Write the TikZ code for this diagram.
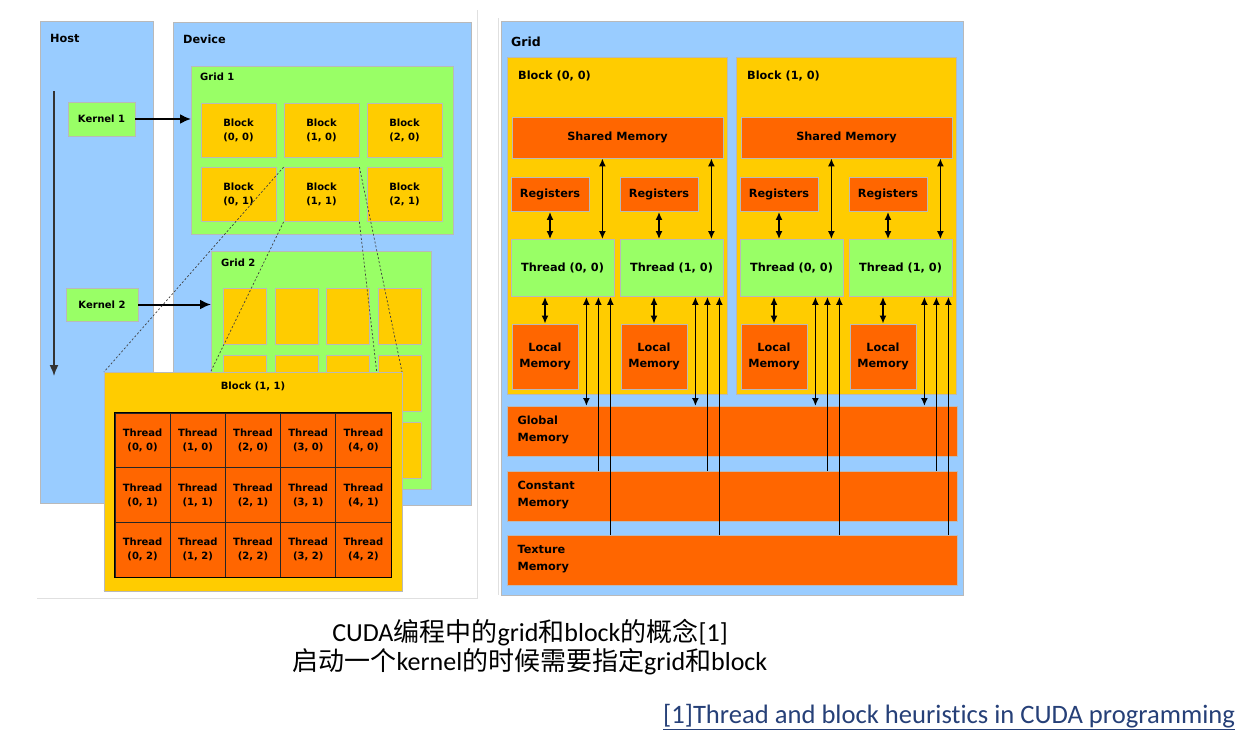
\documentclass[tikz,border=0pt]{standalone}
\usepackage{fontspec}
\setmainfont{Carlito}
\newfontfamily\dejavu{DejaVu Sans}
\newfontfamily\cjk{Noto Sans CJK SC}
\usetikzlibrary{arrows.meta, calc, positioning}
\definecolor{panelblue}{RGB}{153,204,255}
\definecolor{gridgreen}{RGB}{153,255,102}
\definecolor{blockyellow}{RGB}{255,204,0}
\definecolor{memorange}{RGB}{255,102,0}
\definecolor{boxedge}{RGB}{185,185,185}
\definecolor{linkblue}{RGB}{38,64,120}

\begin{document}
\begin{tikzpicture}[x=1pt, y=-1pt]
        % styles %
        \tikzstyle{panel} = [draw=boxedge, line width=0.8pt, inner sep=0pt];
        \tikzstyle{bluebox} = [panel, fill=panelblue, anchor=north west];
        \tikzstyle{greenbox} = [panel, fill=gridgreen];
        \tikzstyle{yellowbox} = [panel, fill=blockyellow];
        \tikzstyle{membox} = [panel, fill=memorange];
        \tikzstyle{title} = [anchor=west, inner sep=0pt, font=\dejavu\bfseries\fontsize{11.3}{13}\selectfont];
        \tikzstyle{tiny} = [align=center, font=\dejavu\bfseries\fontsize{10}{14}\selectfont];
        \tikzstyle{small} = [align=center, font=\dejavu\bfseries\fontsize{11.3}{16.5}\selectfont];
        \tikzstyle{kernelarrow} = [-{Latex[length=11pt,width=10pt]}, line width=2pt];
        \tikzstyle{timeline} = [-{Latex[length=11pt,width=9pt]}, draw=black!80, line width=1.6pt];
        \tikzstyle{zoomline} = [dash pattern=on 2pt off 2pt, draw=black!75, line width=0.7pt];
        \tikzstyle{dbl} = [{Latex[length=8pt,width=7pt]}-{Latex[length=8pt,width=7pt]}, line width=1.6pt];
        \tikzstyle{up} = [-{Latex[length=8pt,width=7pt]}, line width=1.6pt];

        \useasboundingbox (0,0) rectangle (1249,737);
        \fill[white] (0,0) rectangle (1249,737);
        \draw[black!12] (37,598) -- (477,598) -- (477,10);
        \draw[black!12] (498,18) -- (498,595);

        % host and device %
        \node [bluebox, minimum width=113pt, minimum height=482pt] (host) at (40,21) {};
        \node [bluebox, minimum width=298pt, minimum height=483pt] (device) at (173,22) {};
        \node [title] (hostlbl) at (50,38) {Host};
        \node [title] (devicelbl) at (183,39) {Device};

        \coordinate (tstart) at (54,91);
        \coordinate (tend) at (54,376);
        \draw [timeline] (tstart) -- (tend);

        \node [greenbox, tiny, minimum width=67pt, minimum height=34pt] (kern1) at (101.5,119) {Kernel 1};
        \node [greenbox, tiny, minimum width=72pt, minimum height=33pt] (kern2) at (102,304.5) {Kernel 2};

        % grid 1 %
        \node [greenbox, anchor=north west, minimum width=262pt, minimum height=168pt] (grid1) at (191,66) {};
        \node [title, font=\dejavu\bfseries\fontsize{10}{12}\selectfont] (grid1lbl) at (200,77) {Grid 1};
        \begin{scope}[node distance=83pt]
        \tikzstyle{blk} = [yellowbox, tiny, minimum width=75pt, minimum height=54pt];
        \node [blk] (blk00) at (238.5,130) {Block\\(0, 0)};
        \node [blk] (blk10) [right of = blk00] {Block\\(1, 0)};
        \node [blk] (blk20) [right of = blk10] {Block\\(2, 0)};
        \node [blk] (blk01) at (238.5,194.5) {Block\\(0, 1)};
        \node [blk] (blk11) [right of = blk01] {Block\\(1, 1)};
        \node [blk] (blk21) [right of = blk11] {Block\\(2, 1)};
        \end{scope}

        % grid 2 %
        \node [greenbox, anchor=north west, minimum width=220pt, minimum height=238pt] (grid2) at (211,251) {};
        \node [title, font=\dejavu\bfseries\fontsize{10}{12}\selectfont] (grid2lbl) at (221,263) {Grid 2};
        \foreach \i/\x in {0/244.5, 1/296.5, 2/347.5, 3/399.5}
          \foreach \j/\y in {0/316, 1/383.5, 2/450}
            \node [yellowbox, minimum width=43pt, minimum height=56pt] (gb\i\j) at (\x,\y) {};

        \draw [kernelarrow] (kern1.east) -- (kern1.east -| grid1.west);
        \draw [kernelarrow] (kern2.east) -- (kern2.east -| grid2.west);

        % zoomed block %
        \draw [zoomline] (blk11.north west) -- (104,372);
        \draw [zoomline] (blk11.south west) -- (104,591);
        \draw [zoomline] (blk11.north east) -- (402,372);
        \draw [zoomline] (blk11.south east) -- (402,591);
        \node [yellowbox, anchor=north west, minimum width=298pt, minimum height=219pt] (bigblk) at (104,372) {};
        \node [tiny] (bigblklbl) at (253,386) {Block (1, 1)};
        \foreach \i in {0,...,4}
          \foreach \j in {0,1,2}
            \node [membox, tiny, draw=black!85, minimum width=55.2pt, minimum height=54.67pt]
              (th\i\j) at (142.6+55.2*\i, 440.3+54.67*\j) {Thread\\(\i, \j)};
        \draw [line width=1.3pt] (th00.north west) rectangle (th42.south east);

        % right: grid %
        \node [bluebox, minimum width=462pt, minimum height=574pt] (grid) at (501,21) {};
        \node [title, font=\dejavu\bfseries\fontsize{12.5}{14}\selectfont] (gridlbl) at (511,42) {Grid};
        \node [membox, anchor=north west, minimum width=450pt, minimum height=50pt] (glob) at (507,406) {};
        \node [membox, anchor=north west, minimum width=450pt, minimum height=50pt] (const) at (507,471) {};
        \node [membox, anchor=north west, minimum width=450pt, minimum height=50pt] (tex) at (507,535) {};
        \node [small, align=left, anchor=west] (globlbl) at (514,430) {Global\\Memory};
        \node [small, align=left, anchor=west] (constlbl) at (514,495) {Constant\\Memory};
        \node [small, align=left, anchor=west] (texlbl) at (514,559) {Texture\\Memory};

        \foreach \b/\dx in {0/0, 1/229} {
          \node [yellowbox, anchor=north west, minimum width=220pt, minimum height=337pt] (rb\b) at (507+\dx,57) {};
          \node [title] (rb\b lbl) at (518+\dx,76) {Block (\b, 0)};
          \node [membox, small, minimum width=211pt, minimum height=41pt] (shm\b) at (617.5+\dx,137.5) {Shared Memory};
          \foreach \t/\tx in {0/0, 1/109} {
            \node [membox, small, minimum width=78pt, minimum height=34pt] (reg\b\t) at (550+\dx+\tx,194.5) {Registers};
            \node [greenbox, small, minimum width=103pt, minimum height=57pt] (thr\b\t) at (562.5+\dx+\tx,268) {Thread (\t, 0)};
            \node [membox, small, minimum width=66pt, minimum height=65pt] (loc\b\t) at (545+\dx+\tx,356.5) {Local\\Memory};
          }
        }

        % edges %
        \foreach \b in {0,1}
          \foreach \t in {0,1} {
            \draw [dbl] (reg\b\t.south) -- (reg\b\t.south |- thr\b\t.north);
            \draw [dbl] ($(thr\b\t.north east)+(-12,0)$) -- ($(thr\b\t.north east |- shm\b.south)+(-12,0)$);
            \draw [dbl] (loc\b\t.north) -- (loc\b\t.north |- thr\b\t.south);
            \draw [dbl] ($(thr\b\t.south east)+(-28,0)$) -- ($(thr\b\t.south east |- glob.north)+(-28,0)$);
            \draw [up] ($(thr\b\t.south east |- const.north)+(-16,0)$) -- ($(thr\b\t.south east)+(-16,0)$);
            \draw [up] ($(thr\b\t.south east |- tex.north)+(-4,0)$) -- ($(thr\b\t.south east)+(-4,0)$);
          }

        % caption %
        \node [align=center, font=\fontsize{26}{29}\selectfont] (caption) at (530,647)
          {CUDA{\cjk 编程中的}grid{\cjk 和}block{\cjk 的概念}[1]\\{\cjk 启动一个}kernel{\cjk 的时候需要指定}grid{\cjk 和}block};
        \node [anchor=base west, inner sep=0pt, text=linkblue, font=\addfontfeatures{Ligatures=NoCommon}\fontsize{26.6}{30}\selectfont] (ref) at (663,723)
          {\underline{[1]Thread and block heuristics in CUDA programming}};
\end{tikzpicture}
\end{document}
